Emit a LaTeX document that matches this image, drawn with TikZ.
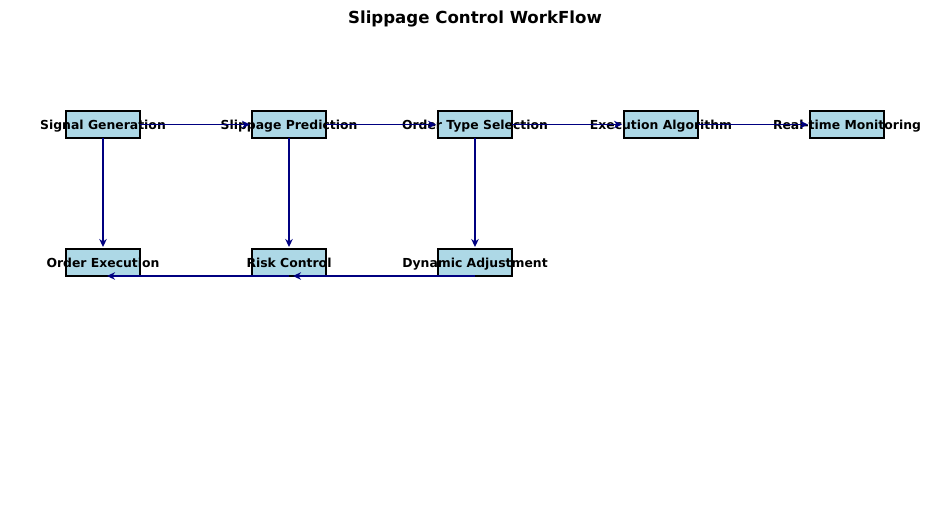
\documentclass[tikz,border=0pt]{standalone}
\usepackage{fontspec}
\setmainfont{DejaVu Sans}
\usepackage{xcolor}
\usetikzlibrary{arrows.meta,positioning}

\definecolor{boxblue}{RGB}{173,216,230}
\definecolor{navyline}{RGB}{0,0,128}

\begin{document}
\begin{tikzpicture}[
    x=1pt, y=1pt,
    node distance=111pt and 112pt,
    box/.style={draw, line width=1.5pt, fill=boxblue, minimum width=74pt, minimum height=27pt, inner sep=0pt, outer sep=0pt},
    lbl/.style={font=\fontsize{12.4}{14}\selectfont\bfseries, inner sep=0pt, text height=11pt, text depth=1.6pt},
    arrow/.style={-{Stealth[length=8pt,width=7.5pt]}, line width=1.5pt, draw=navyline, shorten >=2pt}
]
\useasboundingbox (0,0) rectangle (950,-504);
\node[font=\fontsize{16.6}{19}\selectfont\bfseries] (title) at (475,-19) {Slippage Control WorkFlow};

% top row
\node[box, label={[lbl]center:Signal Generation}] (siggen) at (103,-124.5) {};
\node[box, right=of siggen, label={[lbl]center:Slippage Prediction}] (slippred) {};
\node[box, right=of slippred, label={[lbl]center:Order Type Selection}] (ordtype) {};
\node[box, right=of ordtype, label={[lbl]center:Execution Algorithm}] (execalgo) {};
\node[box, right=of execalgo, label={[lbl]center:Real-time Monitoring}] (monitor) {};

% bottom row
\node[box, below=of siggen, label={[lbl]center:Order Execution}] (ordexec) {};
\node[box, below=of slippred, label={[lbl]center:Risk Control}] (riskctl) {};
\node[box, below=of ordtype, label={[lbl]center:Dynamic Adjustment}] (dynadj) {};

\draw[arrow] (siggen) -- (slippred);
\draw[arrow] (slippred) -- (ordtype);
\draw[arrow] (ordtype) -- (execalgo);
\draw[arrow] (execalgo) -- (monitor);
\draw[arrow] (siggen) -- (ordexec);
\draw[arrow] (slippred) -- (riskctl);
\draw[arrow] (ordtype) -- (dynadj);
\draw[arrow, shorten >=0pt] (dynadj.south) -- ([xshift=4pt]riskctl.south);
\draw[arrow, shorten >=0pt] (riskctl.south) -- ([xshift=4pt]ordexec.south);
\end{tikzpicture}
\end{document}
